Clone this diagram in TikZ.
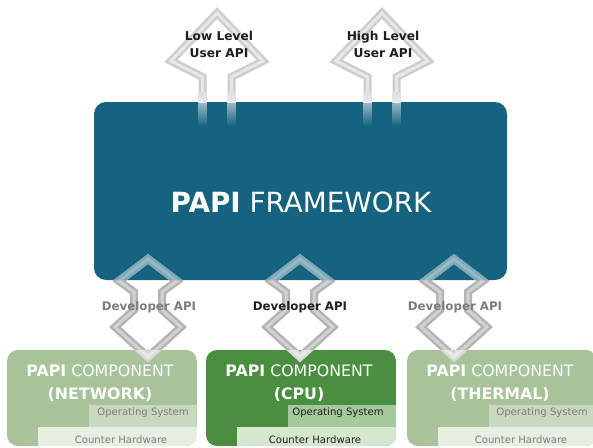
\documentclass[tikz,border=0pt]{standalone}
\usepackage{fontspec}
\setmainfont{DejaVu Sans}
\definecolor{fwblue}{HTML}{166380}
\definecolor{cpugreen}{HTML}{4A8E3F}
\definecolor{sidegreen}{HTML}{A8C39A}
\definecolor{cpuos}{HTML}{A6C99C}
\definecolor{cpuhw}{HTML}{D6E7D0}
\definecolor{sideos}{HTML}{C9D9BF}
\definecolor{sidehw}{HTML}{E7EEE2}
\definecolor{arrowgrey}{HTML}{C6C6C6}
\definecolor{arrowedge}{HTML}{B4B4B4}
\definecolor{userarrowgrey}{HTML}{DDDDDD}
\definecolor{userarrowedge}{HTML}{CDCDCD}
\definecolor{sidetext}{HTML}{7C7C7C}
\definecolor{darktext}{HTML}{1E1E1E}
\newcommand\devarrowpath[1]{({#1-14},292) -- ({#1-14},310) -- ({#1-33},327) -- ({#1},357) -- ({#1+33},327) -- ({#1+14},310) -- ({#1+14},292) -- ({#1+29},281) -- ({#1},259) -- ({#1-29},281) -- cycle}
\newcommand\userarrowpath[1]{({#1-14.5},92) -- ({#1-14.5},77) -- ({#1-46},61) -- ({#1},13) -- ({#1+46},61) -- ({#1+14.5},77) -- ({#1+14.5},92)}
\begin{document}
\begin{tikzpicture}[x=1pt,y=-1pt,
  fwround/.style={rounded corners=12pt},
  compbox/.style={rounded corners=11pt},
  arrowstroke/.style={line width=8pt, line join=miter, miter limit=10},
  arrowinner/.style={line width=3pt, line join=miter, miter limit=10},
  userlbl/.style={font=\fontsize{12.2}{16.5}\selectfont\bfseries, text=darktext, align=center, inner sep=0pt},
  devlbl/.style={font=\fontsize{11.8}{14}\selectfont\bfseries, inner sep=0pt},
  complbl/.style={font=\fontsize{15.8}{23}\selectfont, align=center, inner sep=0pt},
  striplbl/.style={font=\fontsize{10.1}{12}\selectfont, inner sep=0pt}
]
\useasboundingbox (0,0) rectangle (593,447);
\clip (0,0) rectangle (593,447);

% framework
\fill[fwblue, fwround] (94,102) rectangle (507,280);
\coordinate (fwc) at (301,202);

% components
\foreach \L/\base/\os/\hw in {7/sidegreen/sideos/sidehw, 206/cpugreen/cpuos/cpuhw, 407/sidegreen/sideos/sidehw}{
  \begin{scope}
    \clip[compbox] (\L,350) rectangle ({\L+190},446);
    \fill[\base] (\L,350) rectangle ({\L+190},446);
    \fill[\os] ({\L+82},405) rectangle ({\L+190},427);
    \fill[\hw] ({\L+31},427) rectangle ({\L+190},446);
  \end{scope}
}

% user API arrows
\foreach \cx in {217,382}{
  \draw[arrowstroke, userarrowedge] \userarrowpath{\cx};
  \draw[arrowinner, userarrowgrey!70!white] \userarrowpath{\cx};
  \foreach \s in {-1,1}{
    \shade[top color=userarrowgrey, bottom color=userarrowgrey!55!white]
      ({\cx+\s*14.5-4},92) rectangle ({\cx+\s*14.5+4},103);
    \shade[top color=fwblue!45!white, bottom color=fwblue]
      ({\cx+\s*14.5-4},103) rectangle ({\cx+\s*14.5+4},126);
  }
}

% developer arrows
\foreach \cx in {148,300,454}{
  \draw[arrowstroke, arrowedge] \devarrowpath{\cx};
  \draw[arrowinner, arrowgrey!80!white] \devarrowpath{\cx};
}
\begin{scope}
  \clip[fwround] (94,102) rectangle (507,280);
  \foreach \cx in {148,300,454}{
    \draw[arrowstroke, fwblue!55!white] \devarrowpath{\cx};
    \draw[arrowinner, fwblue!45!white] \devarrowpath{\cx};
  }
\end{scope}
\foreach \L/\cx in {7/148, 206/300, 407/454}{
  \begin{scope}
    \clip[compbox] (\L,350) rectangle ({\L+190},446);
    \draw[arrowstroke, white, opacity=0.5] \devarrowpath{\cx};
  \end{scope}
}

% labels
\node[userlbl] (lowapi) at (219,44.5) {Low Level\\User API};
\node[userlbl] (highapi) at (383,44.5) {High Level\\User API};
\node[font=\fontsize{27.8}{30}\selectfont, text=white, inner sep=0pt] (fwlbl) at (fwc) {\textbf{PAPI} FRAMEWORK};

\node[devlbl, text=sidetext] (dev1) at (149,307) {Developer API};
\node[devlbl, text=darktext] (dev2) at (300,307) {Developer API};
\node[devlbl, text=sidetext] (dev3) at (455,307) {Developer API};

\node[complbl, text=white!96!sidegreen] (c1) at (100,383.5) {\textbf{PAPI} COMPONENT\\\textbf{(NETWORK)}};
\node[complbl, text=white] (c2) at (299,383.5) {\textbf{PAPI} COMPONENT\\\textbf{(CPU)}};
\node[complbl, text=white!96!sidegreen] (c3) at (500,383.5) {\textbf{PAPI} COMPONENT\\\textbf{(THERMAL)}};

\node[striplbl, text=sidetext] (os1) at (143,413) {Operating System};
\node[striplbl, text=darktext] (os2) at (338,413) {Operating System};
\node[striplbl, text=sidetext] (os3) at (542,413) {Operating System};
\node[striplbl, text=sidetext] (hw1) at (121,439.5) {Counter Hardware};
\node[striplbl, text=darktext] (hw2) at (315,439.5) {Counter Hardware};
\node[striplbl, text=sidetext] (hw3) at (521,439.5) {Counter Hardware};
\end{tikzpicture}
\end{document}
